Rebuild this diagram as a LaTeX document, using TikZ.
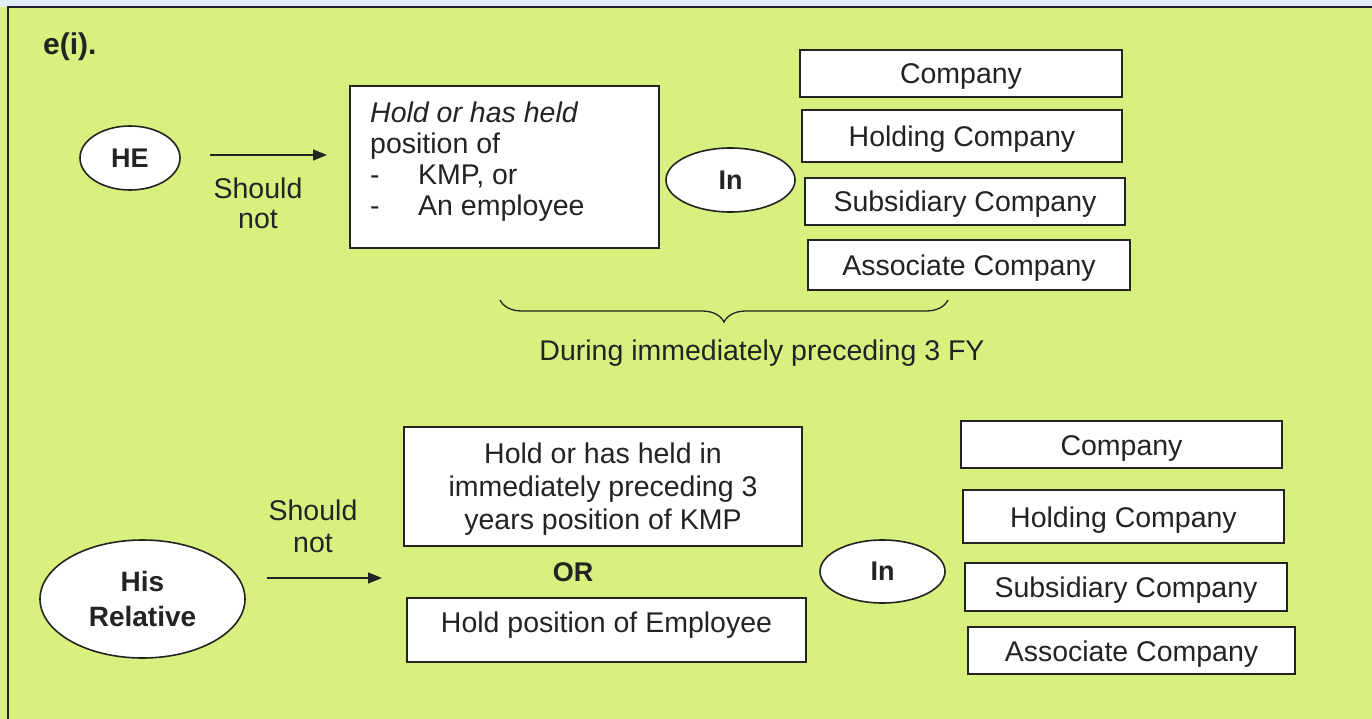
\documentclass[tikz,border=0pt]{standalone}
\usepackage{fontspec}
\setmainfont{Liberation Sans}
\usetikzlibrary{shapes.geometric,arrows.meta,decorations.pathreplacing}
\definecolor{panel}{RGB}{216,240,126}
\definecolor{strip}{RGB}{224,236,246}
\definecolor{frame}{RGB}{30,32,50}
\definecolor{ink}{RGB}{35,35,35}
\begin{document}
\begin{tikzpicture}[x=1pt,y=-1pt,
  every node/.style={inner sep=0pt, text=ink},
  card/.style={draw=ink, line width=1.6pt, fill=white, rectangle,
    font=\fontsize{28.5}{33}\selectfont, align=center},
  oneline/.style={text height=21pt, text depth=0pt},
  oval/.style={draw=ink, line width=1.6pt, fill=white, ellipse,
    font=\bfseries\fontsize{27}{32}\selectfont, align=center},
  lbl/.style={font=\fontsize{28.5}{30}\selectfont, align=center},
  arr/.style={draw=ink, line width=1.6pt, -{Triangle[length=14pt,width=11pt]}}
]
\useasboundingbox (0,0) rectangle (1372,719);
% panel background and frame
\fill[panel] (0,0) rectangle (1372,719);
\fill[strip] (0,0) rectangle (1372,7);
\draw[frame, line width=2.2pt] (8,719) -- (8,7) -- (1372,7);

% heading
\node[anchor=west, font=\bfseries\fontsize{30}{32}\selectfont] (head) at (43,47) {e(i).};

% ---- upper row: HE ----
\node[oval, minimum width=100pt, minimum height=64pt] (he) at (130,158) {HE};
\coordinate (a1s) at (210,155);
\coordinate (a1e) at (327,155);
\draw[arr] (a1s) -- (a1e);
\node[lbl] (sn1) at (258,203) {Should\\not};

\node[card, minimum width=309pt, minimum height=162pt] (pos) at (504.5,167) {};
\node[anchor=north west, align=left, font=\fontsize{28.5}{31}\selectfont] (postext) at (370,102)
  {\textit{Hold or has held}\\position of\\\makebox[48pt][l]{-}KMP, or\\\makebox[48pt][l]{-}An employee};

\node[oval, minimum width=129pt, minimum height=64pt] (in1) at (730.5,180) {In};

\node[card, oneline, minimum width=322pt, minimum height=47pt] (tc1) at (961,73.5) {Company};
\node[card, oneline, minimum width=320pt, minimum height=52pt] (tc2) at (962,136) {Holding Company};
\node[card, oneline, minimum width=320pt, minimum height=47pt] (tc3) at (965,201.5) {Subsidiary Company};
\node[card, oneline, minimum width=322pt, minimum height=50pt] (tc4) at (969,265) {Associate Company};

% brace with period note
\coordinate (bl) at (500,300);
\coordinate (br) at (948,300);
\draw[ink, line width=1.3pt, decorate, decoration={brace, mirror, amplitude=22pt}] (bl) -- (br);
\node[lbl] (fy) at (762,353) {During immediately preceding 3 FY};

% ---- lower row: His Relative ----
\node[oval, minimum width=205pt, minimum height=118pt, font=\bfseries\fontsize{28}{35}\selectfont]
  (rel) at (142.5,599) {His\\Relative};
\node[lbl, font=\fontsize{28.5}{32}\selectfont] (sn2) at (313,526) {Should\\not};
\coordinate (a2s) at (267,578);
\coordinate (a2e) at (382,578);
\draw[arr] (a2s) -- (a2e);

\node[card, minimum width=398pt, minimum height=119pt] (kmp) at (603,486.5) {};
\node[lbl, font=\fontsize{28.5}{33}\selectfont] (kmptext) at (603,489)
  {Hold or has held in\\immediately preceding 3\\years position of KMP};
\node[font=\bfseries\fontsize{27}{30}\selectfont] (or) at (573,572) {OR};
\node[card, text height=15pt, text depth=9.6pt, minimum width=399pt, minimum height=64pt]
  (emp) at (606.5,630) {Hold position of Employee};

\node[oval, minimum width=125pt, minimum height=63pt] (in2) at (882.5,571.5) {In};

\node[card, oneline, minimum width=321pt, minimum height=47pt] (bc1) at (1121.5,444.5) {Company};
\node[card, oneline, minimum width=321pt, minimum height=53pt] (bc2) at (1123.5,516.5) {Holding Company};
\node[card, oneline, minimum width=322pt, minimum height=48pt] (bc3) at (1126,587) {Subsidiary Company};
\node[card, oneline, minimum width=327pt, minimum height=47pt] (bc4) at (1131.5,650.5) {Associate Company};
\end{tikzpicture}
\end{document}
